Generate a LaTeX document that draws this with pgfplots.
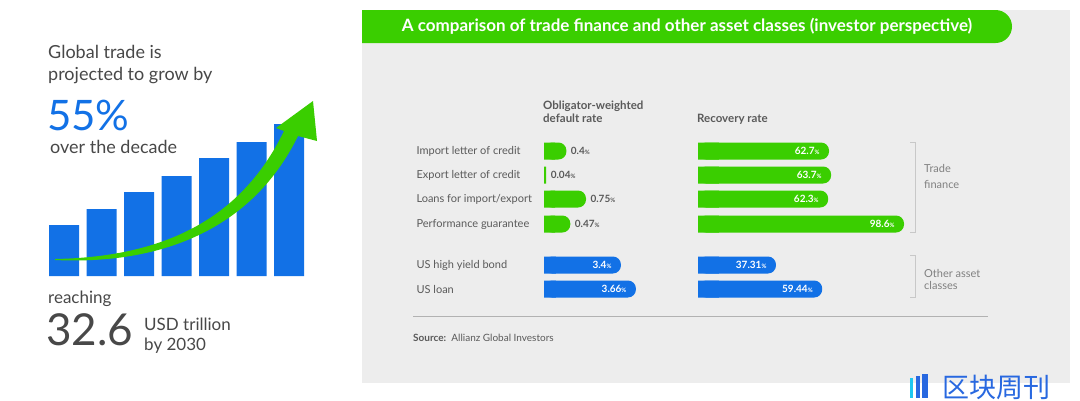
\documentclass[border=0pt]{standalone}
\usepackage{pgfplots}
\pgfplotsset{compat=1.18}
\usepackage{fontspec}
\setmainfont{Lato}
\newfontfamily\cjk{Noto Sans CJK SC}
\definecolor{agreen}{RGB}{58,206,0}
\definecolor{ablue}{RGB}{18,113,230}
\definecolor{panel}{RGB}{237,237,237}
\definecolor{txt}{RGB}{90,90,90}
\definecolor{dtxt}{RGB}{72,72,72}
\definecolor{brk}{RGB}{200,200,200}
\definecolor{logoblue}{RGB}{40,104,224}
\definecolor{logocyan}{RGB}{30,200,240}

\newcommand{\pc}{{\fontsize{6}{7}\selectfont\%}}

% data
\pgfplotstableread{
v     y    lab
0.4   151  0.4
0.04  175  0.04
0.75  199  0.75
0.47  224  0.47
}\deftrade
\pgfplotstableread{
v     y    lab
3.4   265  3.4
3.66  289  3.66
}\defother
\pgfplotstableread{
v     y    lab
62.7  151  62.7
63.7  175  63.7
62.3  199  62.3
98.6  224  98.6
}\rectrade
\pgfplotstableread{
v     y    lab
37.31 265  37.31
59.44 289  59.44
}\recother

\pgfplotsset{
  pill/.style={xbar, draw=none, bar shift=0pt, rounded corners=8pt},
  flat/.style={xbar, draw=none, bar shift=0pt, sharp corners},
  inlab/.style={nodes near coords={\pgfplotspointmeta\pc}, point meta=explicit symbolic,
    nodes near coords style={anchor=east, xshift=-6pt, white, font=\bfseries\fontsize{10}{12}\selectfont}},
}

\begin{document}
\begin{tikzpicture}[x=1pt,y=-1pt]
\path[use as bounding box] (0,0) rectangle (1080,400);
\fill[white] (0,0) rectangle (1080,400);

% ---- left panel text
\begin{scope}[every node/.style={anchor=base west, inner sep=0pt}]
\node[dtxt, font=\fontsize{18}{20}\selectfont] at (48,58) {Global trade is};
\node[dtxt, font=\fontsize{18}{20}\selectfont] at (48,80) {projected to grow by};
\node[ablue, font=\fontsize{42}{44}\selectfont] at (47,130) {55\%};
\node[dtxt, font=\fontsize{18}{20}\selectfont] at (50,153) {over the decade};
\node[dtxt, font=\fontsize{17}{19}\selectfont] at (48,303) {reaching};
\node[dtxt, font=\fontsize{44}{46}\selectfont] at (46,345) {32.6};
\node[dtxt, font=\fontsize{17}{19}\selectfont] at (144,330) {USD trillion};
\node[dtxt, font=\fontsize{17}{19}\selectfont] at (144,350) {by 2030};
\end{scope}

% ---- growth bars
\begin{axis}[at={(41.5pt,-276pt)}, anchor=south west, scale only axis,
  width=270pt, height=160pt, xmin=-0.6, xmax=6.6, ymin=0, ymax=160,
  hide axis, ybar, bar width=30pt]
\addplot[fill=ablue, draw=none, bar shift=0pt] coordinates {
  (0,51) (1,67) (2,84) (3,100) (4,118) (5,134) (6,152)};
\end{axis}

% growth arrow
\fill[agreen] (55,259) .. controls (160,257) and (240,222) .. (284,131)
  -- (276,128) -- (313,101) -- (317,141) -- (298,136)
  .. controls (252,230) and (160,265) .. (55,260) -- cycle;

% ---- right panel
\fill[panel] (362,10) rectangle (1070,383);
\begin{scope}
\clip (362,0) rectangle (1080,400);
\fill[agreen, rounded corners=16.5pt] (330,10) rectangle (1012,43);
\end{scope}
\node[white, font=\bfseries\fontsize{17}{19}\selectfont] at (687,26)
  {A comparison of trade finance and other asset classes (investor perspective)};

\begin{scope}[every node/.style={anchor=base west, inner sep=0pt, txt, font=\bfseries\fontsize{11.5}{13}\selectfont}]
\node at (543,109) {Obligator-weighted};
\node at (543,122) {default rate};
\node at (697,122) {Recovery rate};
\end{scope}

% default rate: trade finance
\begin{axis}[at={(544pt,-139pt)}, anchor=north west, scale only axis,
  width=151.2pt, height=97pt, xmin=0, xmax=2.7, ymin=139, ymax=236, y dir=reverse,
  bar width=17pt, axis line style={draw=none}, xtick=\empty,
  ytick={151,175,199,224}, major tick length=0pt,
  yticklabels={Import letter of credit, Export letter of credit,
    Loans for import/export, Performance guarantee},
  yticklabel style={anchor=west, xshift=-131pt, txt, font=\fontsize{11}{12}\selectfont}]
\addplot[flat, fill=agreen, x filter/.expression={min(x,0.2)}] table[x=v, y=y] {\deftrade};
\addplot[pill, fill=agreen, x filter/.expression={x<0.3 ? nan : x}] table[x=v, y=y] {\deftrade};
\addplot[flat, fill=agreen, fill opacity=0, nodes near coords={\pgfplotspointmeta\pc},
  point meta=explicit symbolic,
  nodes near coords style={anchor=west, xshift=1pt, txt, text opacity=1, font=\bfseries\fontsize{10}{12}\selectfont}]
  table[x=v, y=y, meta=lab] {\deftrade};
\end{axis}

% default rate: other asset classes
\begin{axis}[at={(544pt,-253pt)}, anchor=north west, scale only axis,
  width=140.4pt, height=48pt, xmin=2.066, xmax=4.5, ymin=253, ymax=301, y dir=reverse,
  bar width=17pt, axis line style={draw=none}, xtick=\empty,
  ytick={265,289}, major tick length=0pt,
  yticklabels={US high yield bond, US loan},
  yticklabel style={anchor=west, xshift=-131pt, txt, font=\fontsize{11}{12}\selectfont}]
\addplot[flat, fill=ablue, x filter/.expression={min(x,2.27)}] table[x=v, y=y] {\defother};
\addplot[pill, fill=ablue, inlab] table[x=v, y=y, meta=lab] {\defother};
\end{axis}

% recovery rate
\begin{axis}[at={(698pt,-139pt)}, anchor=north west, scale only axis,
  width=221.5pt, height=162pt, xmin=0, xmax=106, ymin=139, ymax=301, y dir=reverse,
  bar width=17pt, hide axis]
\addplot[flat, fill=agreen, x filter/.expression={min(x,10)}] table[x=v, y=y] {\rectrade};
\addplot[pill, fill=agreen, inlab] table[x=v, y=y, meta=lab] {\rectrade};
\addplot[flat, fill=ablue, x filter/.expression={min(x,10)}] table[x=v, y=y] {\recother};
\addplot[pill, fill=ablue, inlab] table[x=v, y=y, meta=lab] {\recother};
\end{axis}

% group brackets
\draw[brk, line width=0.8pt] (910,142) -- (915,142) -- (915,232) -- (910,232);
\draw[brk, line width=0.8pt] (910,255) -- (915,255) -- (915,297) -- (910,297);
\begin{scope}[every node/.style={anchor=base west, inner sep=0pt, text=gray, font=\fontsize{11}{12}\selectfont}]
\node at (924,172) {Trade};
\node at (924,188) {finance};
\node at (924,277) {Other asset};
\node at (924,289) {classes};
\end{scope}

% source
\draw[gray!60, line width=0.8pt] (413,316) -- (988,316);
\node[anchor=base west, inner sep=0pt, txt, font=\fontsize{10}{11}\selectfont] at (413,341)
  {\textbf{Source:}\ \ Allianz Global Investors};

% logo
\fill[logocyan] (910,378) rectangle (913,398);
\fill[logoblue] (916,376) rectangle (920,398);
\fill[logoblue] (922,374) rectangle (928,398);
\node[anchor=west, inner sep=0pt, logoblue, font=\cjk\fontsize{27}{29}\selectfont] at (942,387) {区块周刊};
\end{tikzpicture}
\end{document}
